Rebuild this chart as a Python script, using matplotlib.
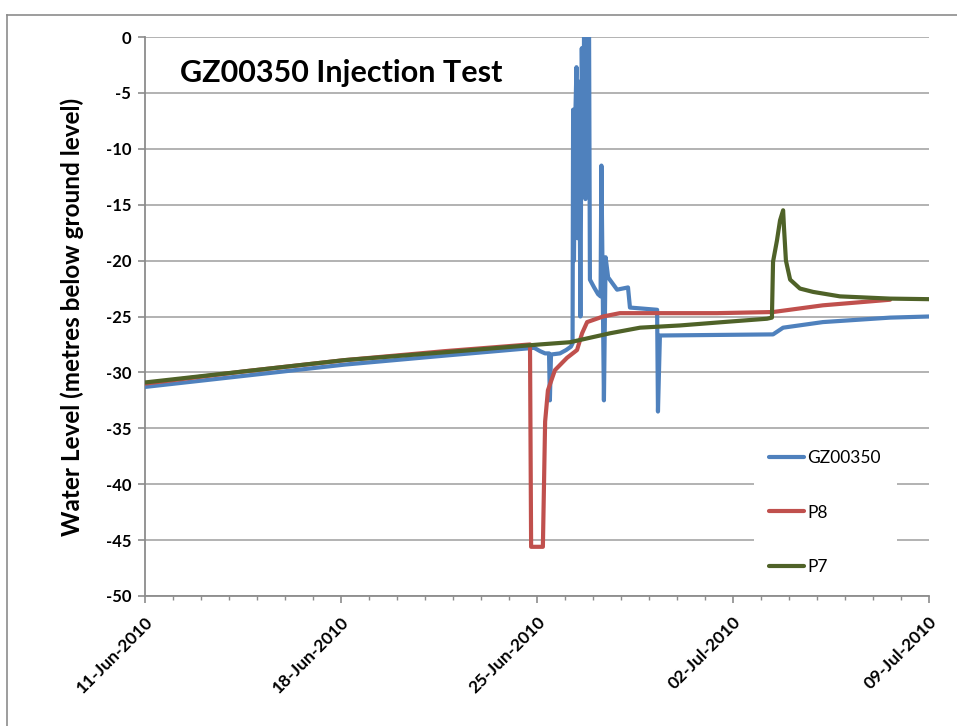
import datetime as dt
import matplotlib
matplotlib.use("Agg")
import matplotlib.pyplot as plt
import matplotlib.dates as mdates
from matplotlib.lines import Line2D

# ---------------- data (days after 11-Jun-2010, water level in m) ----------------
start = dt.datetime(2010, 6, 11)

gz_days = [0.0, 3.57, 7.14, 10.7, 13.9, 14.11, 14.29, 14.43, 14.46, 14.5, 14.82, 15.04,
           15.21, 15.27, 15.29, 15.32, 15.36, 15.41, 15.45, 15.5, 15.55, 15.6, 15.64,
           15.68, 15.73, 15.77, 15.79, 15.86,
           15.89, 16.04, 16.18, 16.27, 16.3, 16.39, 16.45, 16.54, 16.86, 17.25, 17.32,
           18.29, 18.32, 18.39, 22.43, 22.79, 24.21, 26.61, 28.0]
gz_vals = [-31.3, -30.3, -29.3, -28.5, -27.8, -28.1, -28.3, -28.3, -32.5, -28.4, -28.3, -28.0,
           -27.7, -27.4, -6.5, -20.0, -8.0, -2.7, -18.0, -4.0, -25.0, -1.0, -10.0,
           0.0, -14.5, -3.0, 0.0, 0.0,
           -21.7, -22.4, -23.0, -23.2, -11.5, -32.5, -19.7, -21.5, -22.6, -22.4, -24.2,
           -24.4, -33.5, -26.7, -26.6, -26.0, -25.5, -25.1, -25.0]

p8_days = [0.0, 3.57, 7.14, 10.7, 13.75, 13.79, 14.21, 14.29, 14.39, 14.64, 15.07, 15.43,
           15.61, 15.79, 16.36, 16.96, 20.43, 22.43, 24.21, 26.61]
p8_vals = [-31.0, -29.9, -28.9, -28.1, -27.5, -45.6, -45.6, -34.4, -31.6, -29.8, -28.7, -28.0,
           -26.5, -25.5, -25.0, -24.7, -24.7, -24.6, -24.0, -23.5]

p7_days = [0.0, 3.57, 7.14, 10.7, 14.1, 15.18, 16.61, 17.68, 19.11, 20.64, 22.21, 22.39,
           22.43, 22.57, 22.68, 22.79, 22.82, 22.89, 23.04, 23.39, 23.86, 24.82, 26.61, 28.0]
p7_vals = [-30.9, -29.9, -28.9, -28.2, -27.5, -27.3, -26.5, -26.0, -25.8, -25.5, -25.2, -25.1,
           -20.1, -18.2, -16.4, -15.5, -17.0, -20.0, -21.7, -22.5, -22.8, -23.2, -23.4, -23.45]

series_names = ["GZ00350", "P8", "P7"]
tick_labels = ["11-Jun-2010", "18-Jun-2010", "25-Jun-2010", "02-Jul-2010", "09-Jul-2010"]
y_ticks = [0, -5, -10, -15, -20, -25, -30, -35, -40, -45, -50]
title = "GZ00350 Injection Test"
ylabel = "Water Level (metres below ground level)"

colors = ["#4F81BD", "#C0504D", "#4F6228"]

# ---------------- plot ----------------
plt.rcParams['font.family'] = ['Lato', 'DejaVu Sans']

fig = plt.figure(figsize=(9.57, 7.26), dpi=100)
ax = fig.add_axes([145/957, 1 - 596/726, (929-145)/957, (596-37)/726])

def to_dates(days):
    return [start + dt.timedelta(days=d) for d in days]

for days, vals, name, c in [(gz_days, gz_vals, series_names[0], colors[0]),
                            (p8_days, p8_vals, series_names[1], colors[1]),
                            (p7_days, p7_vals, series_names[2], colors[2])]:
    ax.plot(to_dates(days), vals, color=c, lw=3.0, label=name, solid_joinstyle='round',
            solid_capstyle='round', zorder=3)

tick_dates = [dt.datetime.strptime(t, "%d-%b-%Y") for t in tick_labels]
ax.set_xlim(tick_dates[0], tick_dates[-1])
ax.set_ylim(-50, 0)
ax.set_xticks(tick_dates)
ax.set_xticklabels(tick_labels, rotation=45, ha='right', rotation_mode='anchor',
                   fontsize=12.5, fontweight='bold')
ax.xaxis.set_minor_locator(mdates.DayLocator())
ax.set_yticks(y_ticks)
ax.set_yticklabels([str(v) for v in y_ticks], fontsize=12, fontweight='bold')

ax.grid(axis='y', color='#A6A6A6', lw=1.2, zorder=0)
ax.set_axisbelow(True)
for s in ['top', 'right']:
    ax.spines[s].set_visible(False)
for s in ['left', 'bottom']:
    ax.spines[s].set_color('#8C8C8C')
    ax.spines[s].set_linewidth(1.3)
ax.tick_params(axis='both', which='major', direction='out', length=5, color='#8C8C8C',
               width=1.2, pad=5)
ax.tick_params(axis='x', which='minor', direction='out', length=3, color='#8C8C8C', width=1)
ax.tick_params(axis='x', which='major', pad=8)

ax.text(0.045, 0.935, title, transform=ax.transAxes, fontsize=22, fontweight='bold',
        ha='left', va='center')
fig.text(72/957, 1 - 317/726, ylabel, rotation=90, ha='center', va='center',
         fontsize=17.5, fontweight='bold')

leg = ax.legend(loc='upper left', bbox_to_anchor=((745-145)/784, (596-426)/559),
                frameon=True, fontsize=12.5, handlelength=2.0, labelspacing=2.2,
                borderpad=0.9, handletextpad=0.2)
leg.get_frame().set_facecolor('white')
leg.get_frame().set_edgecolor('none')
leg.get_frame().set_alpha(1)
for line in leg.get_lines():
    line.set_linewidth(3)

# outer chart border
fig.add_artist(Line2D([7/957, 1.0], [1 - 15/726, 1 - 15/726], transform=fig.transFigure,
                      color='#8C8C8C', lw=1.2))
fig.add_artist(Line2D([7/957, 7/957], [0.0, 1 - 15/726], transform=fig.transFigure,
                      color='#8C8C8C', lw=1.2))

fig.savefig("out.png", dpi=100)
